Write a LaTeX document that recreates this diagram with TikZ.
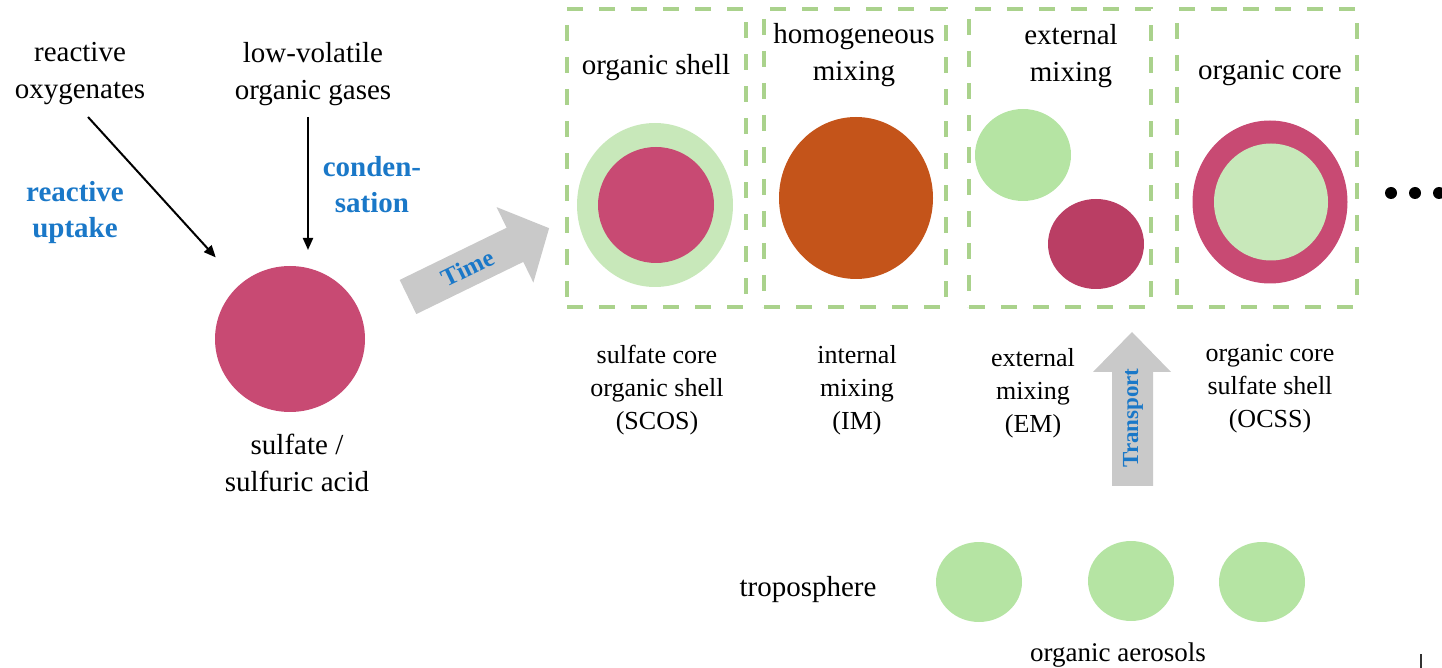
\documentclass[tikz,border=0pt]{standalone}
\usepackage{fontspec}
\setmainfont{Liberation Serif}
\usetikzlibrary{shapes.geometric,arrows.meta}
\definecolor{cpink}{RGB}{200,74,115}
\definecolor{cdpink}{RGB}{186,62,100}
\definecolor{cpale}{RGB}{200,232,186}
\definecolor{clgreen}{RGB}{181,228,163}
\definecolor{corange}{RGB}{196,84,26}
\definecolor{cblue}{RGB}{26,120,200}
\definecolor{cdash}{RGB}{170,210,140}
\definecolor{cgray}{RGB}{201,201,201}
\begin{document}
\begin{tikzpicture}[x=0.5pt,y=-0.5pt,
  txt/.style={font=\fontsize{14.5}{18.5}\selectfont, align=center, inner sep=0pt},
  lbl/.style={font=\fontsize{13}{16.5}\selectfont, align=center, inner sep=0pt},
  blu/.style={font=\fontsize{14.5}{18}\selectfont\bfseries, text=cblue, align=center, inner sep=0pt},
  frame/.style={draw=cdash, line width=2.3pt, dash pattern=on 8pt off 8pt, inner sep=0pt},
  blob/.style={ellipse, inner sep=0pt, draw=none},
  arr/.style={line width=1pt, -{Triangle[length=6pt,width=5pt]}},
  bigarrow/.style={fill=cgray, draw=none}]
\useasboundingbox (0,0) rectangle (1442,668);

% left part
\node[txt] (ro) at (80,74) {reactive\\oxygenates};
\node[txt] (lv) at (313,74) {low-volatile\\organic gases};
\node[blu] (ru) at (75,213) {reactive\\uptake};
\node[blu] (cd) at (372,185) {conden-\\sation};
\node[blob, fill=cpink, minimum width=75pt, minimum height=73pt] (sulf) at (290,339) {};
\node[txt] (sulflbl) at (297,463) {sulfate /\\sulfuric acid};
\coordinate (ruS) at (88,117);
\coordinate (cdS) at (308,117);
\coordinate (cdE) at (308,250);
\draw[arr, shorten >=18pt] (ruS) -- (sulf);
\draw[arr] (cdS) -- (cdE);

% Time arrow
\begin{scope}[shift={(408,297)}, rotate=26]
  \fill[bigarrow] (0,-19) -- (119,-19) -- (119,-42) -- (157,0) -- (119,42) -- (119,19) -- (0,19) -- cycle;
\end{scope}
\node[font=\fontsize{12.5}{14}\selectfont\bfseries, text=cblue, rotate=26, inner sep=0pt] (time) at (468,268) {Time};

% frames
\node[frame, minimum width=89.5pt, minimum height=149pt] (box1) at (656.5,158) {};
\node[frame, minimum width=91pt, minimum height=149pt] (box2) at (855,158) {};
\node[frame, minimum width=91pt, minimum height=149pt] (box3) at (1060,158) {};
\node[frame, minimum width=90pt, minimum height=149pt] (box4) at (1267,158) {};

% box contents
\node[txt] (t1) at (656,68) {organic shell};
\node[blob, fill=cpale, minimum width=78pt, minimum height=82pt] (s1) at (655,205) {};
\node[blob, fill=cpink, minimum width=58pt, minimum height=58pt] (c1) at (656,205) {};

\node[txt] (t2) at (854,55) {homogeneous\\mixing};
\node[blob, fill=corange, minimum width=77pt, minimum height=81pt] (c2) at (856,198) {};

\node[txt] (t3) at (1071,56) {external\\mixing};
\node[blob, fill=clgreen, minimum width=48pt, minimum height=46pt] (c3a) at (1023,155) {};
\node[blob, fill=cdpink, minimum width=48pt, minimum height=45pt] (c3b) at (1096,244) {};

\node[txt] (t4) at (1270,73) {organic core};
\node[blob, fill=cpink, minimum width=77.5pt, minimum height=81.5pt] (s4) at (1270,202) {};
\node[blob, fill=cpale, minimum width=57pt, minimum height=58.5pt] (c4) at (1271,202) {};

% dots
\node[circle, fill=black, minimum size=6pt, inner sep=0pt] (d1) at (1391,193) {};
\node[circle, fill=black, minimum size=6pt, inner sep=0pt] (d2) at (1415,193) {};
\node[circle, fill=black, minimum size=6pt, inner sep=0pt] (d3) at (1439,193) {};

% labels below
\node[lbl] (l1) at (657,390) {sulfate core\\organic shell\\(SCOS)};
\node[lbl] (l2) at (857,390) {internal\\mixing\\(IM)};
\node[lbl] (l3) at (1033,393) {external\\mixing\\(EM)};
\node[lbl] (l4) at (1270,389) {organic core\\sulfate shell\\(OCSS)};

% Transport arrow
\fill[bigarrow] (1112,486) -- (1112,372) -- (1093,372) -- (1132,332) -- (1171,372) -- (1153,372) -- (1153,486) -- cycle;
\node[font=\fontsize{11.5}{14}\selectfont\bfseries, text=cblue, rotate=90, inner sep=0pt] (transport) at (1133,418) {Transport};

% troposphere
\node[txt] (tropo) at (808,590) {troposphere};
\node[blob, fill=clgreen, minimum width=43pt, minimum height=40pt] (oa1) at (979,582) {};
\node[blob, fill=clgreen, minimum width=43pt, minimum height=40pt] (oa2) at (1131,581) {};
\node[blob, fill=clgreen, minimum width=43pt, minimum height=40pt] (oa3) at (1262,582) {};
\node[font=\fontsize{13.5}{16}\selectfont, inner sep=0pt] (oalbl) at (1118,655) {organic aerosols};

% edge marks
\fill[black!80] (1420,654) rectangle (1422,668);
\end{tikzpicture}
\end{document}
